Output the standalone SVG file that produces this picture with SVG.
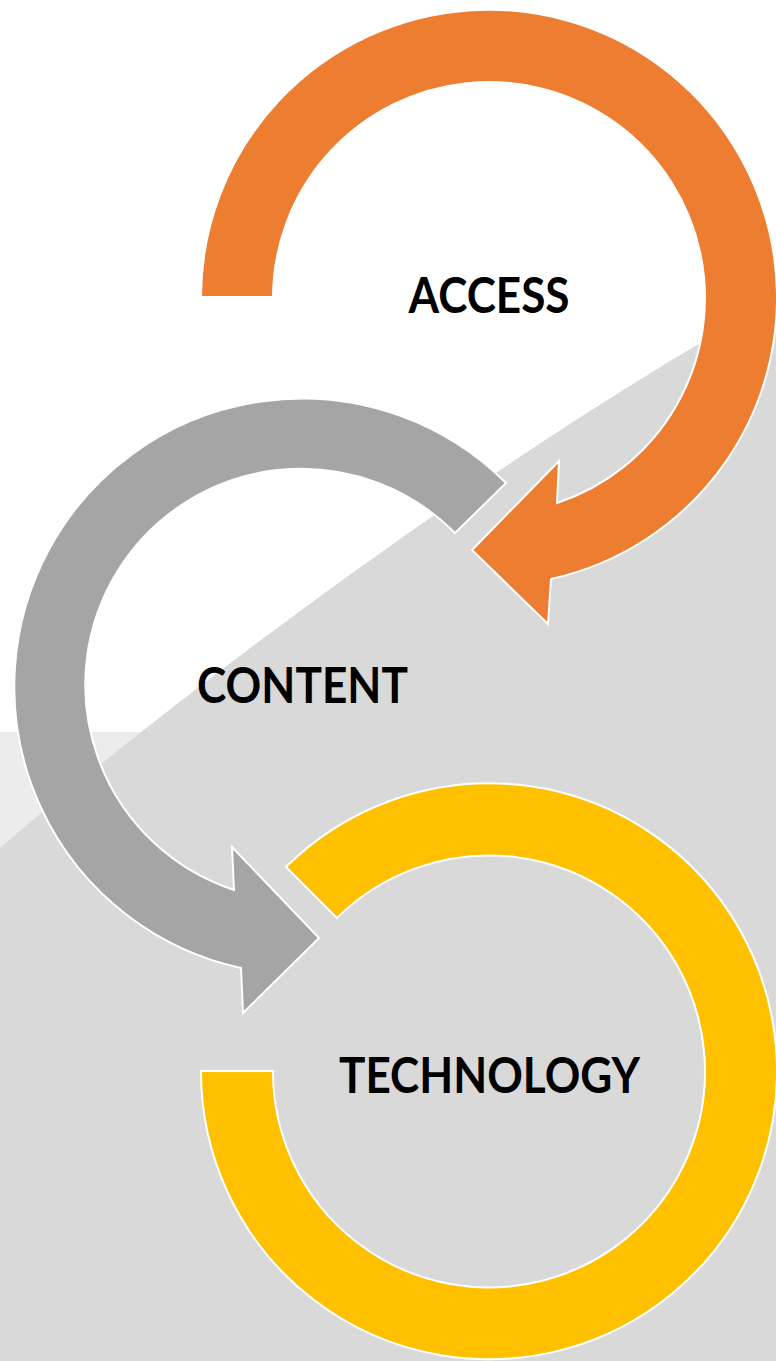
<svg xmlns="http://www.w3.org/2000/svg" width="776" height="1361" viewBox="0 0 776 1361">
  <style>
    .arc { stroke: #ffffff; stroke-width: 2; stroke-linejoin: miter; }
    .orange { fill: #ED7D31; }
    .grey { fill: #A5A5A5; }
    .yellow { fill: #FFC000; }
    .label { font-family: Lato, "Open Sans", "Liberation Sans", sans-serif; font-weight: bold; font-size: 49px; fill: #000000; text-anchor: middle; }
  </style>
  <g id="background">
    <rect x="0" y="0" width="776" height="1361" fill="#ffffff"/>
    <rect x="0" y="732" width="776" height="629" fill="#ececec"/>
    <path d="M0,848 C200,676 526,437 776,300 L776,1361 L0,1361 Z" fill="#d9d9d9"/>
  </g>
  <g id="connectors"></g>
  <g id="node-access">
    <path class="arc orange" d="M201,297 A288,288 0 1 1 551,579 L548,624 L472,550 L559,461 L557,503 A216,216 0 1 0 273,297 Z"/>
    <text class="label" x="489" y="313" textLength="161" lengthAdjust="spacingAndGlyphs">ACCESS</text>
  </g>
  <g id="node-content">
    <path class="arc grey" d="M506,483 A288,288 0 1 0 241,968 L243,1013 L319,938 L232,847 L234,890 A216,216 0 1 1 455,533 Z"/>
    <text class="label" x="302.5" y="703" textLength="211" lengthAdjust="spacingAndGlyphs">CONTENT</text>
  </g>
  <g id="node-technology">
    <path class="arc yellow" d="M286,867 A288,288 0 1 1 201,1071 L273,1071 A216,216 0 1 0 337,918 Z"/>
    <text class="label" x="489.5" y="1093" textLength="301" lengthAdjust="spacingAndGlyphs">TECHNOLOGY</text>
  </g>
</svg>
